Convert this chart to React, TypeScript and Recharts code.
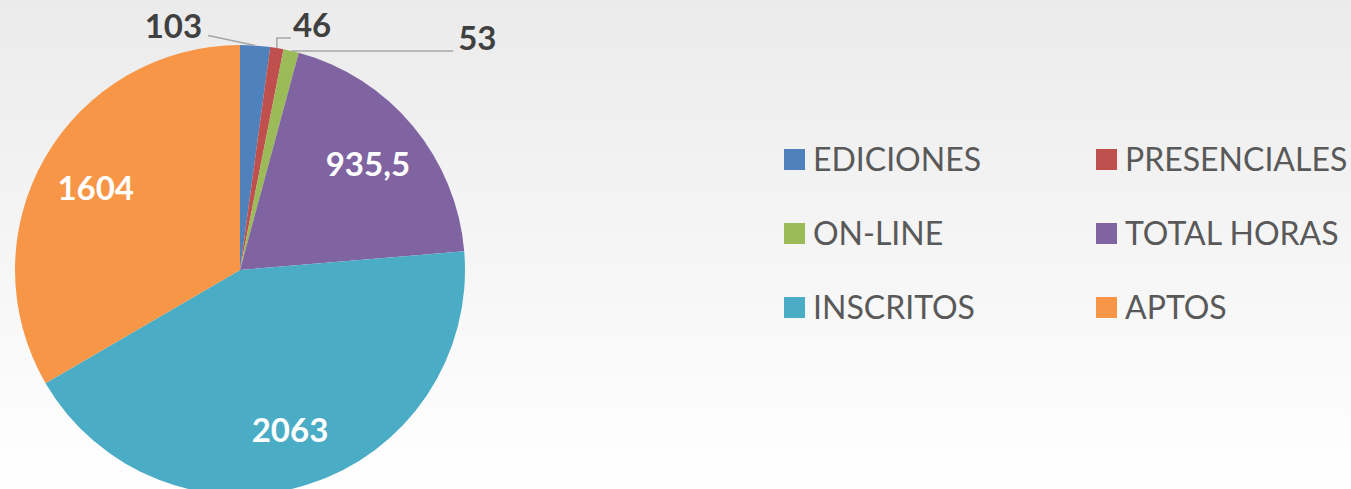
import { PieChart, Pie, Cell, Legend } from "recharts";

const categories = ["EDICIONES", "PRESENCIALES", "ON-LINE", "TOTAL HORAS", "INSCRITOS", "APTOS"];
const values = [103, 46, 53, 935.5, 2063, 1604];
const valueLabels = ["103", "46", "53", "935,5", "2063", "1604"];
const colors = ["#4f81bd", "#c0504d", "#9bbb59", "#8064a2", "#4bacc6", "#f79646"];

const data = categories.map((name, i) => ({ name, value: values[i], label: valueLabels[i] }));

const RAD = Math.PI / 180;
const FONT = "Lato, 'Open Sans', sans-serif";

// callout placement for the three thin slices (relative to the slice's point on the rim)
const callouts: Record<number, { line: [number, number][]; tx: number; ty: number; anchor: "start" | "end" }> = {
  0: { line: [[0, 0], [-47, -10]], tx: -53, ty: -8, anchor: "end" },
  1: { line: [[0, 0], [0, -10], [14, -10]], tx: 16, ty: -11, anchor: "start" },
  2: { line: [[0, 0], [162, 0]], tx: 167, ty: -1, anchor: "start" },
};

const renderLabel = (props: any) => {
  const { cx, cy, midAngle, outerRadius, index } = props;
  const cos = Math.cos(-midAngle * RAD);
  const sin = Math.sin(-midAngle * RAD);
  const c = callouts[index];
  if (c) {
    const ax = cx + outerRadius * cos;
    const ay = cy + outerRadius * sin;
    const pts = c.line.map(([dx, dy]) => `${ax + dx},${ay + dy}`).join(" ");
    return (
      <g key={`lbl-${index}`}>
        <polyline points={pts} fill="none" stroke="#a6a6a6" strokeWidth={1.5} />
        <text x={ax + c.tx} y={ay + c.ty} textAnchor={c.anchor} fill="#404040" fontSize={33} fontWeight={700} fontFamily={FONT}>
          {data[index].label}
        </text>
      </g>
    );
  }
  const r = outerRadius * 0.74;
  return (
    <text
      key={`lbl-${index}`}
      x={cx + r * cos}
      y={cy + r * sin}
      textAnchor="middle"
      dominantBaseline="central"
      fill="#ffffff"
      fontSize={33}
      fontWeight={700}
      fontFamily={FONT}
    >
      {data[index].label}
    </text>
  );
};

const LegendContent = () => (
  <div style={{ display: "grid", gridTemplateColumns: "312px 260px", rowGap: 0 }}>
    {data.map((d, i) => (
      <div key={d.name} style={{ display: "flex", alignItems: "center", height: 74 }}>
        <span style={{ width: 21, height: 21, background: colors[i], marginRight: 8, flexShrink: 0 }} />
        <span style={{ fontFamily: FONT, fontSize: 32, color: "#595959", lineHeight: "32px", whiteSpace: "nowrap" }}>
          {d.name}
        </span>
      </div>
    ))}
  </div>
);

export default function App() {
  return (
    <div
      style={{
        position: "fixed",
        left: 0,
        top: 0,
        width: 1351,
        height: 489,
        background: "linear-gradient(to bottom, #ebebeb 0%, #ffffff 100%)",
        overflow: "hidden",
      }}
    >
      <PieChart width={1351} height={489} margin={{ top: 0, right: 0, bottom: 0, left: 0 }}>
        <Pie
          data={data}
          dataKey="value"
          nameKey="name"
          cx={240}
          cy={270}
          outerRadius={225}
          startAngle={90}
          endAngle={-270}
          stroke="none"
          labelLine={false}
          label={renderLabel}
          isAnimationActive={false}
        >
          {data.map((d, i) => (
            <Cell key={d.name} fill={colors[i]} />
          ))}
        </Pie>
        <Legend content={<LegendContent />} wrapperStyle={{ position: "absolute", left: 784, top: 122, width: 567 }} />
      </PieChart>
    </div>
  );
}
